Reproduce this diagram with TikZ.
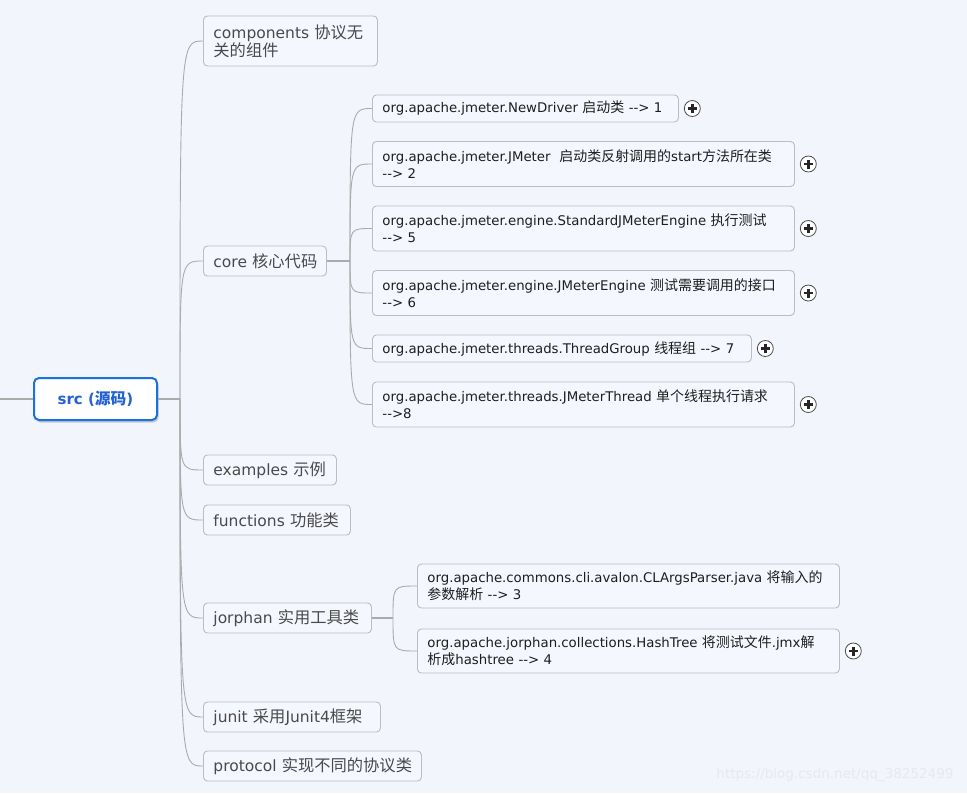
\documentclass[tikz,border=0pt]{standalone}
\usepackage{fontspec}
\setmainfont{DejaVu Sans}
\newfontfamily\cjk{Noto Sans CJK SC}[Scale=1.05]
\usetikzlibrary{positioning,shadows}
\definecolor{canvas}{HTML}{F2F5FC}
\definecolor{boxline}{HTML}{BCBCC2}
\definecolor{boxfill}{HTML}{F5F7FE}
\definecolor{branch}{HTML}{ABABAB}
\definecolor{rootblue}{HTML}{1872E4}
\definecolor{rootink}{HTML}{2262D4}
\definecolor{topicink}{HTML}{4A4A4A}
\definecolor{subink}{HTML}{1E1E1E}
\definecolor{mark}{HTML}{E6E9F1}
\newcommand{\zh}[1]{{\cjk #1}}
\tikzset{
  x=1pt, y=-1pt,
  rootTopic/.style={draw=rootblue, fill=white, line width=2pt, rounded corners=5pt,
    minimum width=123pt, minimum height=42pt, inner sep=0pt,
    font=\bfseries\fontsize{15}{18}\selectfont, text=rootink,
    drop shadow={shadow xshift=1.5pt, shadow yshift=-2.5pt, fill=black!40, opacity=.5}},
  topic/.style={draw=boxline, fill=boxfill, line width=0.9pt, rounded corners=4pt, anchor=west,
    inner xsep=10pt, inner ysep=0pt, align=left, minimum height=30pt, text width=#1,
    font=\fontsize{15.5}{18}\selectfont, text=topicink},
  subtopic/.style={draw=boxline, fill=boxfill, line width=0.9pt, rounded corners=4pt, anchor=west,
    inner xsep=10pt, inner ysep=0pt, align=left, minimum height=27pt, text width=#1,
    font=\fontsize{13.3}{17}\selectfont, text=subink},
  expander/.style={circle, draw=black!70, fill=white, line width=0.8pt, minimum size=16pt,
    inner sep=0pt, right=5pt of #1,
    path picture={\draw[line width=2.4pt, black!85]
      ([xshift=-4.5pt]path picture bounding box.center) -- ([xshift=4.5pt]path picture bounding box.center)
      ([yshift=-4.5pt]path picture bounding box.center) -- ([yshift=4.5pt]path picture bounding box.center);}},
  stem/.style={draw=branch, line width=1.8pt},
  link/.style={draw=branch, line width=0.9pt},
}

\begin{document}
\begin{tikzpicture}
  \useasboundingbox (0,0) rectangle (967,793);
  \fill[canvas] (0,0) rectangle (967,793);

  % ---------------------------------------------------------------- root
  \coordinate (leftin) at (0,399);
  \node[rootTopic] (src) at (95.5,399) {src (\zh{源码})};
  \coordinate (srcfork) at (180,399);
  \draw[stem] (leftin) -- (src.west);

  % ---------------------------------------------------------------- first level
  \node[topic=154pt, minimum height=50pt] (components) at (203,41)
    {components~\zh{协议无}\\\zh{关的组件}};
  \node[topic=103pt] (core) at (203,261) {core~\zh{核心代码}};
  \node[topic=113pt] (examples) at (203,470) {examples~\zh{示例}};
  \node[topic=127pt] (functions) at (203,520) {functions~\zh{功能类}};
  \node[topic=148pt] (jorphan) at (203,618) {jorphan~\zh{实用工具类}};
  \node[topic=157pt] (junit) at (203,717) {junit~\zh{采用}Junit4\zh{框架}};
  \node[topic=198pt] (protocol) at (203,766) {protocol~\zh{实现不同的协议类}};

  \draw[stem] (src.east) -- (srcfork);
  \foreach \n in {components,core,examples,functions,jorphan,junit,protocol}
    \draw[link] (srcfork) .. controls (srcfork |- \n.west) .. (\n.west);

  % ---------------------------------------------------------------- core
  \coordinate (corefork) at (350,261);
  \node[subtopic=286pt] (newdriver) at (372,108.5)
    {org.apache.jmeter.NewDriver~\zh{启动类}~-{}->~1};
  \node[subtopic=402pt, minimum height=45pt] (jmeter) at (372,164)
    {org.apache.jmeter.JMeter~~\zh{启动类反射调用的}start\zh{方法所在类}\\-{}-> 2};
  \node[subtopic=402pt, minimum height=45pt] (stdengine) at (372,228.5)
    {org.apache.jmeter.engine.StandardJMeterEngine~\zh{执行测试}\\-{}-> 5};
  \node[subtopic=402pt, minimum height=45pt] (engine) at (372,293)
    {org.apache.jmeter.engine.JMeterEngine~\zh{测试需要调用的接口}\\-{}-> 6};
  \node[subtopic=359pt] (threadgroup) at (372,348.5)
    {org.apache.jmeter.threads.ThreadGroup~\zh{线程组}~-{}->~7};
  \node[subtopic=402pt, minimum height=45pt] (jmthread) at (372,404.5)
    {org.apache.jmeter.threads.JMeterThread~\zh{单个线程执行请求}\\-{}->8};

  \draw[stem] (core.east) -- (corefork);
  \foreach \n in {newdriver,jmeter,stdengine,engine,threadgroup,jmthread} {
    \draw[link] (corefork) .. controls (corefork |- \n.west) .. (\n.west);
    \node[expander=\n] (\n plus) {};
  }

  % ---------------------------------------------------------------- jorphan
  \coordinate (jorphanfork) at (393,618);
  \node[subtopic=402pt, minimum height=44pt] (clargs) at (417,586)
    {org.apache.commons.cli.avalon.CLArgsParser.java~\zh{将输入的}\\\zh{参数解析} -{}-> 3};
  \node[subtopic=402pt, minimum height=44pt] (hashtree) at (417,651)
    {org.apache.jorphan.collections.HashTree~\zh{将测试文件}.jmx\zh{解}\\\zh{析成}hashtree -{}-> 4};
  \node[expander=hashtree] (hashtreeplus) {};

  \draw[stem] (jorphan.east) -- (jorphanfork);
  \foreach \n in {clargs,hashtree}
    \draw[link] (jorphanfork) .. controls (jorphanfork |- \n.west) .. (\n.west);

  % ---------------------------------------------------------------- watermark
  \node[anchor=east, text=mark, font=\fontsize{13.5}{16}\selectfont] (watermark) at (957,775)
    {https://blog.csdn.net/qq\_38252499};
\end{tikzpicture}
\end{document}
